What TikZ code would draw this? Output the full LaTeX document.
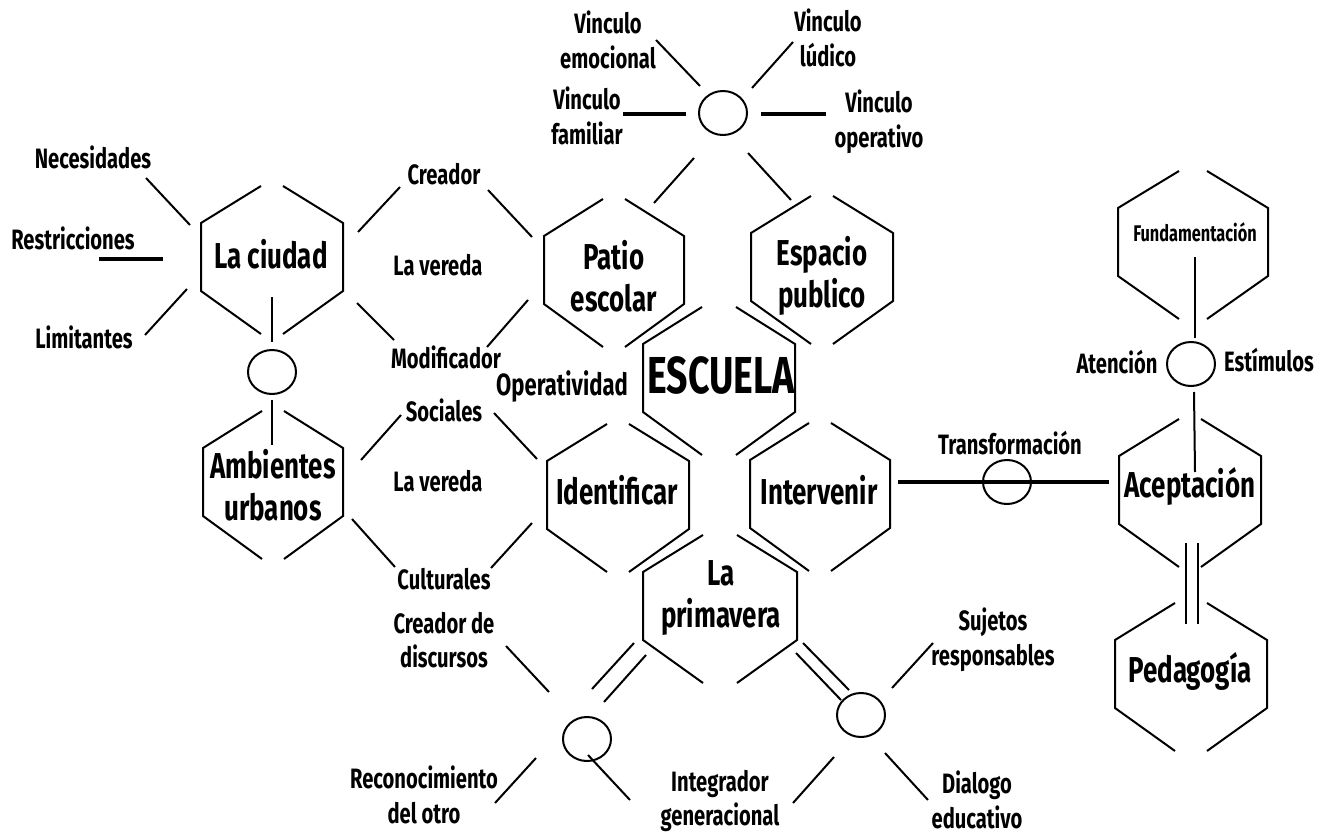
\documentclass[tikz,border=0pt]{standalone}
\usepackage{fontspec}
\setmainfont{Fira Sans}[FakeStretch=0.72]
\usetikzlibrary{shapes.geometric,calc}

\tikzset{
  pics/cell/.style 2 args={code={
    \draw[seg] (-#2,-71) -- (-#1,-34) -- (-#1,34) -- (-#2,77);
    \draw[seg] (#2,-71) -- (#1,-34) -- (#1,34) -- (#2,77);
  }}
}

\begin{document}
\begin{tikzpicture}[
  x=0.75pt,y=-0.75pt,
  seg/.style={line width=1.5pt},
  thickbar/.style={line width=3pt},
  lbl/.style={font=\fontsize{21}{26}\selectfont\bfseries,align=center,inner sep=0pt},
  big/.style={font=\fontsize{27}{31.5}\selectfont\bfseries,align=center,inner sep=0pt},
  ring/.style={draw,ellipse,line width=1.5pt,minimum width=36pt,minimum height=33pt,inner sep=0pt}
]
\useasboundingbox (0,0) rectangle (1332,835);

% ---- hexagon cells
\pic at (272,257) {cell={71}{11}};
\pic at (273,482) {cell={70}{11}};
\pic at (614,270) {cell={70}{11}};
\pic at (822,267) {cell={71}{11}};
\pic at (719,378) {cell={76}{17}};
\pic at (618,495) {cell={71}{11}};
\pic at (820,494) {cell={70}{11}};
\pic at (720,606) {cell={77}{17}};
\pic at (1193,242) {cell={75}{14}};
\pic at (1190,490) {cell={71}{11}};
\pic at (1191,674) {cell={76}{16}};

% ---- cell labels
\node[big] (cty) at (271,254) {La ciudad};
\node[big] (amb) at (273,485) {Ambientes\\urbanos};
\node[big] (pat) at (614,276) {Patio\\escolar};
\node[big] (esp) at (822,276) {Espacio\\publico};
\node[big,font=\fontsize{39}{44}\selectfont\bfseries] (esc) at (721,375) {ESCUELA};
\node[big] (ide) at (617,490) {Identificar};
\node[big] (int) at (819,490) {Intervenir};
\node[big] (pri) at (721,598) {La\\primavera};
\node[lbl,font=\fontsize{17}{20}\selectfont\bfseries] (fun) at (1195,232) {Fundamentación};
\node[big] (ace) at (1190,486) {Aceptación};
\node[big] (ped) at (1190,671) {Pedagogía};

% ---- rings
\node[ring] (rtop) at (723,113) {};
\node[ring] (rcty) at (272,372) {};
\node[ring] (rtra) at (1007,482) {};
\node[ring] (rate) at (1191,364) {};
\node[ring] (rlft) at (587,739) {};
\node[ring] (rrgt) at (861,715) {};

% ---- small labels
\node[lbl] (nec) at (93,157) {Necesidades};
\node[lbl] (res) at (73,238) {Restricciones};
\node[lbl] (lim) at (84,337) {Limitantes};
\node[lbl] (cre) at (444,174) {Creador};
\node[lbl] (ve1) at (438,265) {La vereda};
\node[lbl] (mod) at (446,357) {Modificador};
\node[lbl,font=\fontsize{23}{26}\selectfont\bfseries] (ope) at (562,386) {Operatividad};
\node[lbl] (soc) at (444,410) {Sociales};
\node[lbl] (ve2) at (438,481) {La vereda};
\node[lbl] (cul) at (444,579) {Culturales};
\node[lbl] (vem) at (608,40) {Vinculo\\emocional};
\node[lbl] (vlu) at (828,38) {Vinculo\\lúdico};
\node[lbl] (vfa) at (587,116) {Vinculo\\familiar};
\node[lbl] (vop) at (879,122) {Vinculo\\operativo};
\node[lbl] (tra) at (1010,443) {Transformación};
\node[lbl] (ate) at (1117,362) {Atención};
\node[lbl] (est) at (1269,360) {Estímulos};
\node[lbl] (crd) at (444,640) {Creador de\\discursos};
\node[lbl] (suj) at (993,640) {Sujetos\\responsables};
\node[lbl] (rec) at (424,795) {Reconocimiento\\del otro};
\node[lbl] (ing) at (720,801) {Integrador\\generacional};
\node[lbl] (dia) at (977,800) {Dialogo\\educativo};

% ---- strokes, left
\draw[seg] (146,178) -- (190,225);
\draw[thickbar] (99,259) -- (163,259);
\draw[seg] (145,335) -- (187,289);
\draw[seg] (272,297) -- (272,342);
\draw[seg] (272,400) -- (272,445);

% ---- strokes, la vereda
\draw[seg] (400,187) -- (358,232);
\draw[seg] (488,190) -- (532,237);
\draw[seg] (394,340) -- (357,303);
\draw[seg] (487,347) -- (528,300);
\draw[seg] (401,415) -- (361,460);
\draw[seg] (494,413) -- (537,459);
\draw[seg] (352,519) -- (395,567);
\draw[seg] (491,568) -- (532,523);

% ---- strokes, vinculos
\draw[seg] (656,40) -- (700,86);
\draw[seg] (793,42) -- (752,88);
\draw[thickbar] (623,114) -- (686,114);
\draw[thickbar] (761,114) -- (826,114);
\draw[seg] (694,158) -- (654,203);
\draw[seg] (748,153) -- (791,200);

% ---- strokes, right
\draw[thickbar] (898,482) -- (1109,482);
\draw[seg] (1195,257) -- (1195,338);
\draw[seg] (1194,392) -- (1195,472);
\draw[seg] (1186,543) -- (1186,624);
\draw[seg] (1198,543) -- (1198,624);

% ---- strokes, bottom
\draw[seg] (634,643) -- (592,689);
\draw[seg] (646,655) -- (604,702);
\draw[seg] (803,643) -- (849,690);
\draw[seg] (796,653) -- (841,700);
\draw[seg] (506,646) -- (549,692);
\draw[seg] (536,758) -- (495,803);
\draw[seg] (588,755) -- (630,800);
\draw[seg] (834,757) -- (793,803);
\draw[seg] (892,688) -- (933,643);
\draw[seg] (885,753) -- (928,800);
\end{tikzpicture}
\end{document}
